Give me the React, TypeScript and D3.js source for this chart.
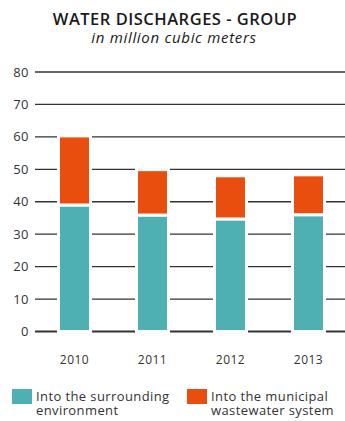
import React from "react";
import * as d3 from "d3";

const years = ["2010", "2011", "2012", "2013"];
const surrounding = [39.0, 35.9, 34.7, 36.0];
const municipal = [21.3, 14.0, 13.3, 12.3];
const yTicks = [0, 10, 20, 30, 40, 50, 60, 70, 80];
const seriesNames = ["Into the surrounding|environment", "Into the municipal|wastewater system"];
const colors = ["#4fb0b3", "#e94e0f"];

const W = 345;
const H = 421;
const FONT = "'Open Sans', 'DejaVu Sans', sans-serif";

export default function App() {
  const y = d3.scaleLinear().domain([0, 80]).range([331.5, 72]);
  const x = d3.scaleBand().domain(years).range([35.5, 347.5]).paddingInner(0.63).paddingOuter(0.315);
  const bw = x.bandwidth();
  const stacked = years.map((yr, i) => {
    const a = surrounding[i];
    const b = municipal[i];
    return [
      { y0: 0, y1: a, c: colors[0] },
      { y0: a, y1: a + b, c: colors[1] },
    ];
  });

  return (
    <svg width={W} height={H} style={{ position: "absolute", left: 0, top: 0, background: "#fff" }}>
      <text x={175} y={25} textAnchor="middle" fontFamily={FONT} fontSize={16.5} fontWeight={600} letterSpacing={0.5} fill="#1a1a1a">
        WATER DISCHARGES - GROUP
      </text>
      <text x={174} y={43} textAnchor="middle" fontFamily={FONT} fontSize={15} fontStyle="italic" letterSpacing={0.7} fill="#1a1a1a">
        in million cubic meters
      </text>
      {yTicks.map((t) => (
        <g key={t}>
          <line x1={35} x2={W} y1={y(t)} y2={y(t)} stroke="#333" strokeWidth={t === 0 ? 2 : 1.3} />
          <text x={29} y={y(t) + 4.5} textAnchor="end" fontFamily={FONT} fontSize={13} letterSpacing={0.5} fill="#333">
            {t}
          </text>
        </g>
      ))}
      {years.map((yr, i) => {
        const cx = (x(yr) as number) + bw / 2;
        return (
          <g key={yr}>
            {stacked[i].map((s, j) => (
              <rect
                key={j}
                x={cx - 16}
                width={32}
                y={y(s.y1)}
                height={y(s.y0) - y(s.y1)}
                fill={s.c}
                stroke="#fff"
                strokeWidth={3}
              />
            ))}
            <text x={cx} y={364} textAnchor="middle" fontFamily={FONT} fontSize={12} letterSpacing={0.5} fill="#333">
              {yr}
            </text>
          </g>
        );
      })}
      {seriesNames.map((n, i) => {
        const lx = i === 0 ? 12 : 187;
        const lines = n.split("|");
        return (
          <g key={n}>
            <rect x={lx} y={389} width={20} height={15} fill={colors[i]} />
            {lines.map((l, k) => (
              <text key={k} x={lx + 24} y={401 + k * 14} fontFamily={FONT} fontSize={13} letterSpacing={0.4} fill="#333">
                {l}
              </text>
            ))}
          </g>
        );
      })}
    </svg>
  );
}
